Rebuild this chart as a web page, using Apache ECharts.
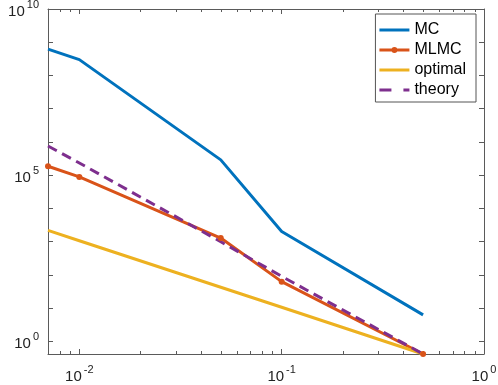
<!DOCTYPE html>
<html>
<head>
<meta charset="utf-8">
<script src="https://cdn.jsdelivr.net/npm/echarts@6/dist/echarts.min.js"></script>
<style>
  html, body { margin: 0; padding: 0; background: #fff; }
  #chart { width: 498px; height: 385px; }
</style>
</head>
<body>
<div id="chart"></div>
<script>
// tolerance eps on x, cost on y (both log scale)
var eps = [0.007, 0.01, 0.05, 0.1, 0.5];
var mcCost = [6.2e8, 3.0e8, 2.9e5, 2.04e3, 6.3];
var mlmcCost = [1.86e5, 8.9e4, 1.29e3, 63, 0.42];
var optimalCost = [2.19e3, 1.07e3, 42.7, 10.7, 0.42];
var theoryCost = [7.6e5, 2.34e5, 1.0e3, 91, 0.42];

var seriesNames = ['MC', 'MLMC', 'optimal', 'theory'];
var xTickValues = [0.01, 0.1, 1];
var xMinorTicks = [0.008, 0.009, 0.02, 0.03, 0.04, 0.05, 0.06, 0.07, 0.08, 0.09,
                   0.2, 0.3, 0.4, 0.5, 0.6, 0.7, 0.8, 0.9];
var yTickValues = [1, 10, 100, 1e3, 1e4, 1e5, 1e6, 1e7, 1e8, 1e9, 1e10];
var yLabelValues = [1, 1e5, 1e10];

var X_MIN = 0.007, X_MAX = 1;
var Y_MIN = 0.42, Y_MAX = 1e10;
var FONT = 'Liberation Sans';
var AXIS_COLOR = '#5a5a5a';

function pairs(ys) {
    var out = [];
    for (var i = 0; i < eps.length; i++) {
        out.push([eps[i], ys[i]]);
    }
    return out;
}

function powLabel(value) {
    var r = Math.round(Math.log10(value));
    return '{b|10}{e|' + r + '}';
}

var labelRich = {
    b: { fontFamily: FONT, fontSize: 15, color: '#222', lineHeight: 20, verticalAlign: 'bottom' },
    e: { fontFamily: FONT, fontSize: 11, color: '#222', lineHeight: 20, verticalAlign: 'top', padding: [0, 0, 0, 2] }
};

function logAxis(pos, showLabel, min, max, ticks, labels, margin) {
    return {
        type: 'log',
        logBase: 10,
        position: pos,
        min: min,
        max: max,
        axisLine: { onZero: false, lineStyle: { color: AXIS_COLOR, width: 1 } },
        axisTick: { inside: true, length: 5, customValues: ticks, lineStyle: { color: AXIS_COLOR } },
        axisLabel: {
            show: showLabel,
            margin: margin,
            customValues: labels,
            formatter: powLabel,
            rich: labelRich
        },
        splitLine: { show: false }
    };
}

// legend glyphs: plain line, line with dot, dashed line
var ICON_LINE = 'path://M0,0H30V3H0Z';
var ICON_DOT = 'path://M0,1.5H30V4.5H0Z M12,3A3,3 0 1 1 18,3A3,3 0 1 1 12,3Z';
var ICON_DASH = 'path://M0,0H12V3H0Z M24,0H30V3H24Z';

var option = {
    animation: false,
    backgroundColor: '#fff',
    color: ['#0072BD', '#D95319', '#EDB120', '#7E2F8E'],
    grid: { left: 48, right: 14, top: 9, bottom: 31, containLabel: false, outerBoundsMode: 'none' },
    legend: {
        data: [
            { name: 'MC', icon: ICON_LINE },
            { name: 'MLMC', icon: ICON_DOT },
            { name: 'optimal', icon: ICON_LINE },
            { name: 'theory', icon: ICON_DASH }
        ],
        orient: 'vertical',
        right: 22,
        top: 14,
        itemWidth: 30,
        itemHeight: 14,
        itemGap: 4,
        symbolKeepAspect: true,
        itemStyle: { borderWidth: 0 },
        padding: [8, 10, 4, 4],
        borderColor: '#555',
        borderWidth: 1,
        backgroundColor: '#fff',
        textStyle: { fontFamily: FONT, fontSize: 16, lineHeight: 14, color: '#000' }
    },
    xAxis: [
        logAxis('bottom', true, X_MIN, X_MAX, xTickValues, xTickValues, 10),
        logAxis('top', false, X_MIN, X_MAX, xTickValues, xTickValues, 10)
    ],
    yAxis: [
        logAxis('left', true, Y_MIN, Y_MAX, yTickValues, yLabelValues, 9),
        logAxis('right', false, Y_MIN, Y_MAX, yTickValues, yLabelValues, 9)
    ],
    series: [
        {
            name: 'MC', type: 'line', data: pairs(mcCost),
            symbol: 'none', lineStyle: { width: 3 }
        },
        {
            name: 'MLMC', type: 'line', data: pairs(mlmcCost),
            symbol: 'circle', symbolSize: 6, lineStyle: { width: 3 }
        },
        {
            name: 'optimal', type: 'line', data: pairs(optimalCost),
            symbol: 'none', lineStyle: { width: 3 }
        },
        {
            name: 'theory', type: 'line', data: pairs(theoryCost),
            symbol: 'none', lineStyle: { width: 3, type: [10, 6] }
        },
        {
            // minor x ticks (2..9 x 10^k) on the bottom and top edges
            type: 'custom',
            silent: true,
            data: xMinorTicks.map(function (v) { return [v, Y_MIN]; }),
            renderItem: function (params, api) {
                var v = api.value(0);
                var b = api.coord([v, Y_MIN]);
                var t = api.coord([v, Y_MAX]);
                var st = { stroke: AXIS_COLOR, lineWidth: 1 };
                var x = Math.round(b[0]) + 0.5;
                return {
                    type: 'group',
                    children: [
                        { type: 'line', shape: { x1: x, y1: b[1], x2: x, y2: b[1] - 3 }, style: st },
                        { type: 'line', shape: { x1: x, y1: t[1], x2: x, y2: t[1] + 3 }, style: st }
                    ]
                };
            }
        }
    ]
};

var chart = echarts.init(document.getElementById('chart'));
chart.setOption(option);
</script>
</body>
</html>
